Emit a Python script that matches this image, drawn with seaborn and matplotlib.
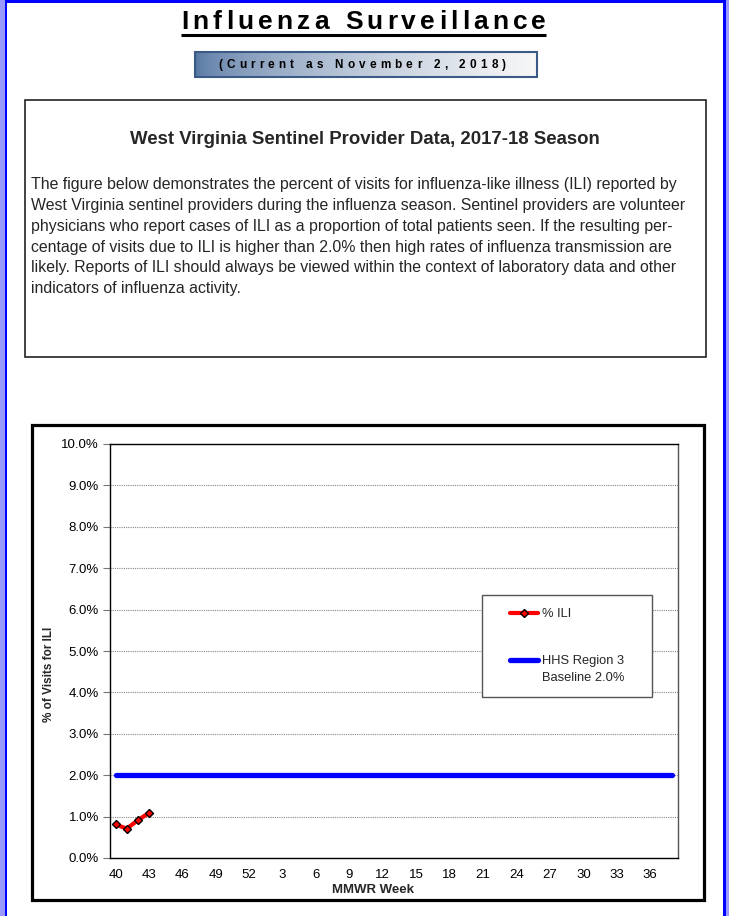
import numpy as np
import pandas as pd
import matplotlib
matplotlib.use('Agg')
import matplotlib.pyplot as plt
import seaborn as sns
from matplotlib.patches import Rectangle
from matplotlib.lines import Line2D

# data
weeks = list(range(40, 53)) + list(range(1, 39))
ili_weeks = [40, 41, 42, 43]
ili_pct = [0.81, 0.71, 0.91, 1.09]
baseline_pct = 2.0
y_ticks = list(range(0, 11))
week_labels = [40, 43, 46, 49, 52, 3, 6, 9, 12, 15, 18, 21, 24, 27, 30, 33, 36]

title = 'Influenza Surveillance'
subtitle = '(Current as November 2, 2018)'
heading = 'West Virginia Sentinel Provider Data, 2017-18 Season'
para_lines = [
    'The figure below demonstrates the percent of visits for influenza-like illness (ILI) reported by',
    'West Virginia sentinel providers during the influenza season. Sentinel providers are volunteer',
    'physicians who report cases of ILI as a proportion of total patients seen. If the resulting per-',
    'centage of visits due to ILI is higher than 2.0% then high rates of influenza transmission are',
    'likely. Reports of ILI should always be viewed within the context of laboratory data and other',
    'indicators of influenza activity.',
]

sns.set_style('white')
plt.rcParams['font.family'] = ['Liberation Sans', 'DejaVu Sans']

W, H = 729, 916
fig = plt.figure(figsize=(W / 100, H / 100), dpi=100)

# page layer in pixel coordinates
page = fig.add_axes([0, 0, 1, 1])
page.set_axis_off()

def px_rect(x0, y0, x1, y1, **kw):
    page.add_patch(Rectangle((x0, y0), x1 - x0, y1 - y0, **kw))

# blue page frame
px_rect(0, 0, 5, H, facecolor='#9999FF', edgecolor='none')
px_rect(5, 0, 7.5, H, facecolor='#0000FF', edgecolor='none')
px_rect(5, 0, 726, 2.5, facecolor='#0000FF', edgecolor='none')
px_rect(723.5, 0, 726, H, facecolor='#0000FF', edgecolor='none')
px_rect(726, 0, W, H, facecolor='#9999FF', edgecolor='none')

renderer = fig.canvas.get_renderer()

def spaced_text(s, x0, x1, y, **kw):
    # spread the letters of s evenly between x0 and x1
    page.set_xlim(0, W)
    page.set_ylim(H, 0)
    arts, widths = [], []
    for ch in s:
        t = page.text(0, y, ch if ch != ' ' else 'n', ha='left', va='center', **kw)
        w = t.get_window_extent(renderer).width
        if ch == ' ':
            t.set_text(' ')
            w *= 0.5
        arts.append(t)
        widths.append(w)
    gap = (x1 - x0 - sum(widths)) / (len(s) - 1)
    x = x0
    for t, w in zip(arts, widths):
        t.set_x(x)
        x += w + gap

# header gradient box
grad = np.linspace(0, 1, 200) ** 0.6
left_c = np.array([0.33, 0.46, 0.64])
right_c = np.array([0.97, 0.97, 0.97])
img = left_c[None, None, :] * (1 - grad[None, :, None]) + right_c[None, None, :] * grad[None, :, None]
img = np.repeat(img, 2, axis=0)
page.imshow(img, extent=[195, 537, 77, 52], aspect='auto', zorder=1)
px_rect(195, 52, 537, 77, facecolor='none', edgecolor='#3B5A86', linewidth=1.5, zorder=2)

spaced_text(title, 181, 546, 22, fontsize=19, fontweight='bold', color='black')
page.plot([181, 546], [35, 35], color='black', lw=2.2, solid_capstyle='butt')
spaced_text(subtitle, 218, 506, 65, fontsize=8.5, fontweight='bold', color='black', zorder=3)

# text box
px_rect(25, 100, 706, 357, facecolor='white', edgecolor='#222222', linewidth=1.2)
page.text(365, 140, heading, ha='center', va='center', fontsize=13.4, fontweight='bold')
for i, line in enumerate(para_lines):
    page.text(31, 185 + i * 20.7, line, ha='left', va='center', fontsize=11.4)

# chart frame
px_rect(32, 425, 704, 900, facecolor='white', edgecolor='black', linewidth=2.3)

page.set_xlim(0, W)
page.set_ylim(H, 0)

# chart
ax = fig.add_axes([110 / W, (H - 858) / H, 568 / W, 414 / H])
ax.set_facecolor('white')

pos = {w: i for i, w in enumerate(weeks)}
df_base = pd.DataFrame({'pos': [pos[w] for w in weeks], 'pct': [baseline_pct] * len(weeks)})
df_ili = pd.DataFrame({'pos': [pos[w] for w in ili_weeks], 'pct': ili_pct})

sns.lineplot(data=df_base, x='pos', y='pct', color='#0000FF', linewidth=3.8,
             solid_capstyle='round', ax=ax, zorder=3)
sns.lineplot(data=df_ili, x='pos', y='pct', color='#FF0000', linewidth=3.0,
             marker='D', markersize=4.5, markerfacecolor='#FF0000',
             markeredgecolor='black', markeredgewidth=1.0, ax=ax, zorder=4)
ili_line = ax.lines[-1]
ili_line.set_linestyle('-')
ili_line.set_linewidth(3.0)
ili_line.set_solid_joinstyle('round')

ax.set_xlim(-0.5, len(weeks) - 0.5)
ax.set_ylim(0, 10)
ax.set_yticks(y_ticks)
ax.set_yticklabels([f'{v:.1f}%' for v in y_ticks])
ax.set_xticks([pos[w] for w in week_labels])
ax.set_xticklabels([str(w) for w in week_labels])
ax.set_xticks(np.arange(-0.5, len(weeks), 1.0), minor=True)
ax.tick_params(axis='x', which='major', length=0, pad=8, labelsize=9.5, labelcolor='black')
ax.tick_params(axis='x', which='minor', length=4, width=0.8, color='#555555', direction='out')
ax.tick_params(axis='y', which='major', length=5, width=0.8, color='#777777', direction='out',
               pad=3, labelsize=9.5, labelcolor='black')
ax.tick_params(bottom=True, left=True)
ax.yaxis.grid(True, color='#888888', linestyle=(0, (1, 1)), linewidth=0.8)
ax.xaxis.grid(False)
ax.set_axisbelow(True)

for side in ['left', 'bottom', 'top']:
    ax.spines[side].set_color('black')
    ax.spines[side].set_linewidth(1.0)
ax.spines['right'].set_color('#555555')
ax.spines['right'].set_linewidth(1.0)

ax.set_xlabel('MMWR Week', fontsize=9.5, fontweight='bold', va='center')
ax.xaxis.set_label_coords((373 - 110) / 568, (858 - 890) / 414)
ax.set_ylabel('% of Visits for ILI', fontsize=8.5, fontweight='bold', va='center')
ax.yaxis.set_label_coords((49 - 110) / 568, (858 - 674) / 414)

# legend frame in figure pixels, entries placed by matplotlib
ax.add_patch(Rectangle((482 / W, (H - 697) / H), 170 / W, 102 / H, transform=fig.transFigure,
                       facecolor='white', edgecolor='#555555', linewidth=1.0,
                       clip_on=False, zorder=4.5))
handles = [
    Line2D([], [], color='#FF0000', lw=3.0, marker='D', markersize=4.5,
           markerfacecolor='#FF0000', markeredgecolor='black', markeredgewidth=1.0),
    Line2D([], [], color='#0000FF', lw=3.8, solid_capstyle='round'),
]
leg = ax.legend(handles, ['% ILI', 'HHS Region 3\nBaseline 2.0%'],
                loc='upper left', bbox_to_anchor=((510 - 110) / 568, (858 - 608) / 414),
                borderaxespad=0, borderpad=0, frameon=False, fontsize=9.3,
                handlelength=2.2, handletextpad=0.25, labelspacing=2.7)
leg.set_zorder(6)
leg.get_texts()[1].set_linespacing(1.6)
blue_handle = leg.get_lines()[1]
blue_handle.set_ydata(np.asarray(blue_handle.get_ydata()) + 7)

fig.savefig('out.png', dpi=100)
